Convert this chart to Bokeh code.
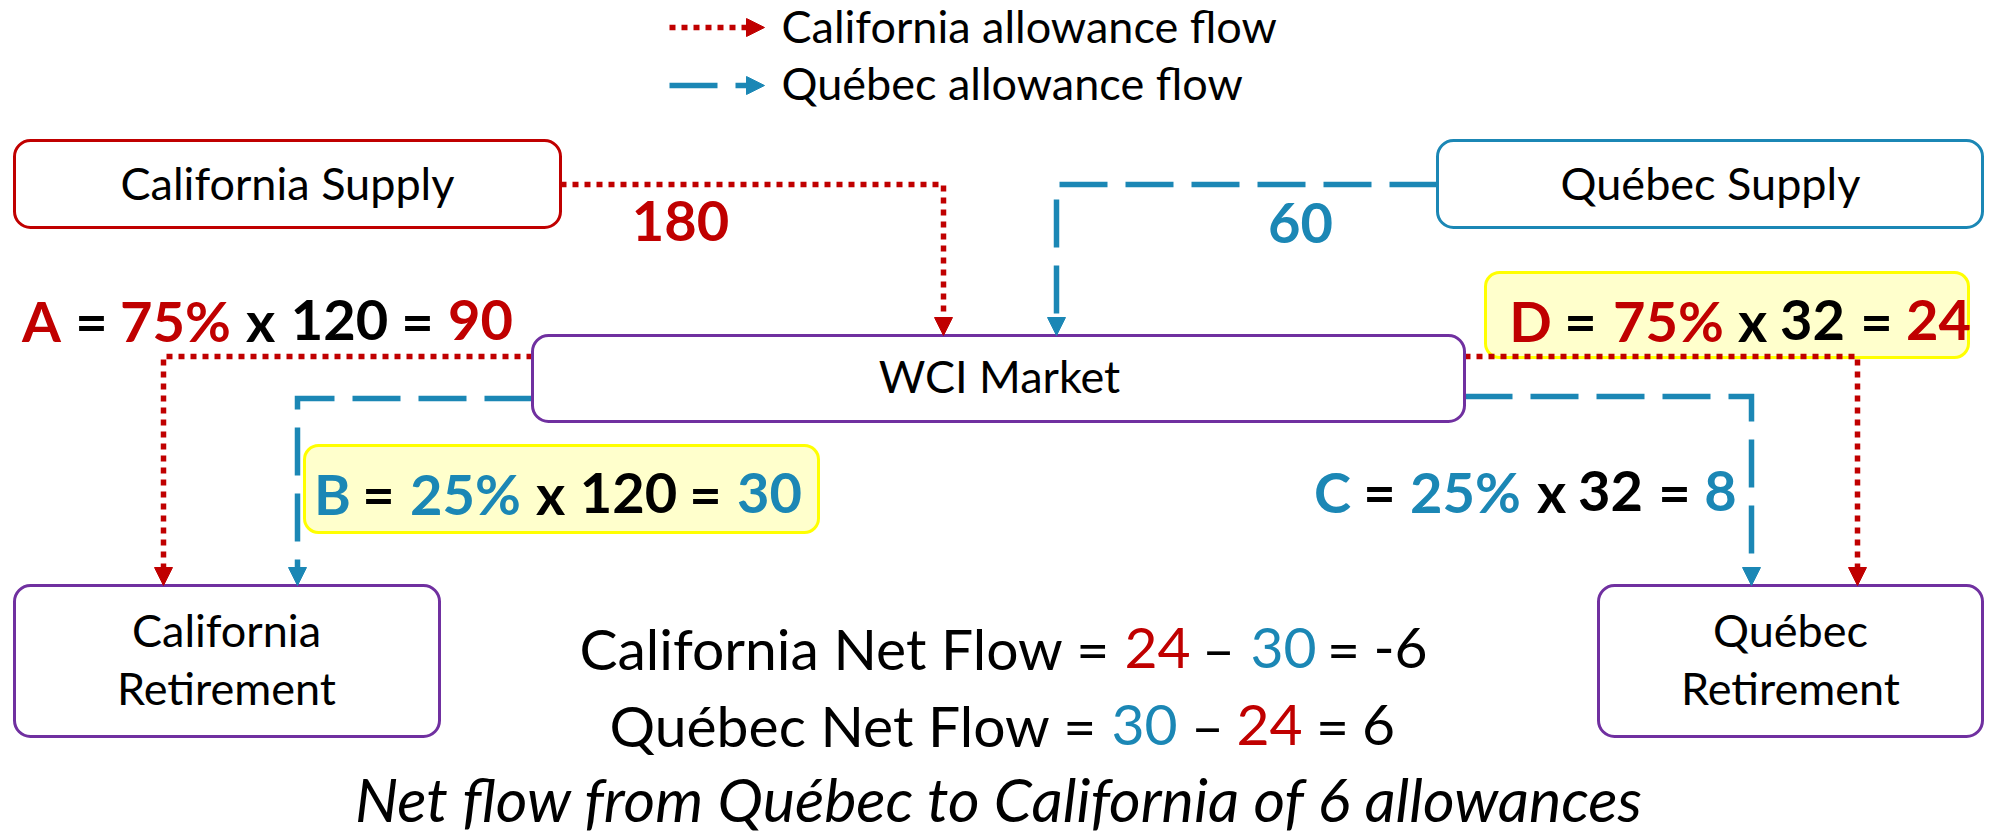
from bokeh.plotting import figure
from bokeh.models import Range1d, Arrow, NormalHead
from bokeh.core.properties import value
from bokeh.embed import file_html
from bokeh.resources import INLINE

# ---------------- data ----------------
legend_labels = ["California allowance flow", "Québec allowance flow"]
supply_names = ["California Supply", "Québec Supply"]
market_name = "WCI Market"
retire_names = [["California", "Retirement"], ["Québec", "Retirement"]]
supply_values = [180, 60]            # California supply, Québec supply
retire_totals = [120, 32]            # California retirement, Québec retirement
shares = ["75%", "25%"]              # California share, Québec share of market
A_val, B_val, C_val, D_val = 90, 30, 8, 24
ca_net, qc_net = -6, 6
net_text = "Net flow from Québec to California of 6 allowances"

# ---------------- styles ----------------
RED = "#C00000"
BLUE = "#1B87B5"
PURPLE = "#7030A0"
BLACK = "#000000"
FONT = value("Lato")
RED_DASH = "6 6"
BLUE_DASH = "48 18"
FLOW_W = 5.5
BL = 0.40   # baseline correction (fraction of font size)

W, H = 1997, 835
p = figure(width=W, height=H, output_backend="svg", toolbar_location=None,
           x_range=Range1d(0, W), y_range=Range1d(H, 0),
           x_axis_location=None, y_axis_location=None, min_border=0)
p.grid.visible = False
p.outline_line_color = None
p.background_fill_color = "white"
p.border_fill_color = "white"


def txt(x, y, s, color=BLACK, size=45, style="normal", align="center"):
    p.text(x=[x], y=[y - BL * size], text=[s], text_color=color, text_font=FONT,
           text_font_size=value(f"{size}px"), text_font_style=style,
           text_align=align, text_baseline="alphabetic")


def head(x0, y0, x1, y1, color, size=18):
    p.add_layout(Arrow(end=NormalHead(size=size, fill_color=color, line_color=color, line_width=1),
                       x_start=x0, y_start=y0, x_end=x1, y_end=y1, line_alpha=0))


# ---------------- yellow highlight boxes ----------------
hl = dict(left=[1485, 304], right=[1968, 818], top=[272, 445], bottom=[357, 532])
p.quad(**hl, fill_color="#FFFFCC", line_color="#FFFF00", line_width=3, border_radius=14)

# ---------------- flow paths ----------------
red_paths = [
    ([560, 943, 943], [184, 184, 322]),     # CA supply -> WCI
    ([532, 163, 163], [356, 356, 572]),     # WCI -> CA retirement
    ([1464, 1857, 1857], [356, 356, 572]),  # WCI -> QC retirement
]
blue_paths = [
    ([1437, 1056, 1056], [184, 184, 322]),  # QC supply -> WCI
    ([532, 297, 297], [398, 398, 572]),     # WCI -> CA retirement
    ([1464, 1751, 1751], [396, 396, 572]),  # WCI -> QC retirement
]
for xs, ys in red_paths:
    p.line(xs, ys, line_color=RED, line_width=FLOW_W, line_dash=RED_DASH, line_join="miter")
    head(xs[-1], ys[-1] - 5, xs[-1], 335 if ys[-1] < 400 else 585, RED)
for xs, ys in blue_paths:
    p.line(xs, ys, line_color=BLUE, line_width=FLOW_W, line_dash=BLUE_DASH, line_join="miter")
    head(xs[-1], ys[-1] - 5, xs[-1], 335 if ys[-1] < 400 else 585, BLUE)

# legend
p.line([669, 752], [27, 27], line_color=RED, line_width=FLOW_W, line_dash=RED_DASH)
head(740, 27, 764, 27, RED)
p.line([669, 752], [85, 85], line_color=BLUE, line_width=FLOW_W, line_dash=BLUE_DASH)
head(740, 85, 764, 85, BLUE)
txt(781, 43, legend_labels[0], align="left")
txt(781, 100, legend_labels[1], align="left")

# ---------------- boxes ----------------
p.quad(left=[14], right=[560], top=[140], bottom=[227], fill_color="white",
       line_color=RED, line_width=3, border_radius=16)
p.quad(left=[1437], right=[1982], top=[140], bottom=[227], fill_color="white",
       line_color=BLUE, line_width=3, border_radius=16)
p.quad(left=[532, 14, 1598], right=[1464, 439, 1982], top=[335, 585, 585],
       bottom=[421, 736, 736], fill_color="white", line_color=PURPLE,
       line_width=3, border_radius=16)

txt(287, 200, supply_names[0])
txt(1710, 200, supply_names[1])
txt(999, 393, market_name)
txt(226, 647, retire_names[0][0]); txt(226, 705, retire_names[0][1])
txt(1790, 647, retire_names[1][0]); txt(1790, 705, retire_names[1][1])

# ---------------- flow amounts ----------------
BS = 56
txt(680, 243, str(supply_values[0]), RED, BS, "bold")
txt(1300, 245, str(supply_values[1]), BLUE, BS, "bold")

eq_lines = [
    # (baseline, letter/share colour, token centres, tokens)
    (342, RED, [41, 91, 175, 260, 339, 417, 480],
     ["A", "=", shares[0], "x", str(retire_totals[0]), "=", str(A_val)]),
    (342, RED, [1530, 1580, 1668, 1752, 1812, 1876, 1938],
     ["D", "=", shares[0], "x", str(retire_totals[1]), "=", str(D_val)]),
    (515, BLUE, [332, 378, 465, 550, 628, 705, 769],
     ["B", "=", shares[1], "x", str(retire_totals[0]), "=", str(B_val)]),
    (513, BLUE, [1332, 1379, 1465, 1551, 1610, 1674, 1720],
     ["C", "=", shares[1], "x", str(retire_totals[1]), "=", str(C_val)]),
]
for base, col, xs, toks in eq_lines:
    cols = [col, BLACK, col, BLACK, BLACK, BLACK, col]
    for x, t, c in zip(xs, toks, cols):
        txt(x, base, t, c, BS, "bold")

# ---------------- net flow statements ----------------
NS = 57
txt(1110, 670, "California Net Flow =", BLACK, NS, align="right")
txt(1157, 670, str(D_val), RED, NS)
txt(1218, 670, "–", BLACK, NS)
txt(1283, 670, str(B_val), BLUE, NS)
txt(1343, 670, "=", BLACK, NS)
txt(1400, 670, str(ca_net), BLACK, NS)

txt(1097, 747, "Québec Net Flow =", BLACK, NS, align="right")
txt(1144, 747, str(B_val), BLUE, NS)
txt(1207, 747, "–", BLACK, NS)
txt(1269, 747, str(D_val), RED, NS)
txt(1332, 747, "=", BLACK, NS)
txt(1378, 747, str(qc_net), BLACK, NS)

txt(999, 822, net_text, BLACK, 61, "italic")

open("out.html", "w").write(file_html(p, INLINE))
